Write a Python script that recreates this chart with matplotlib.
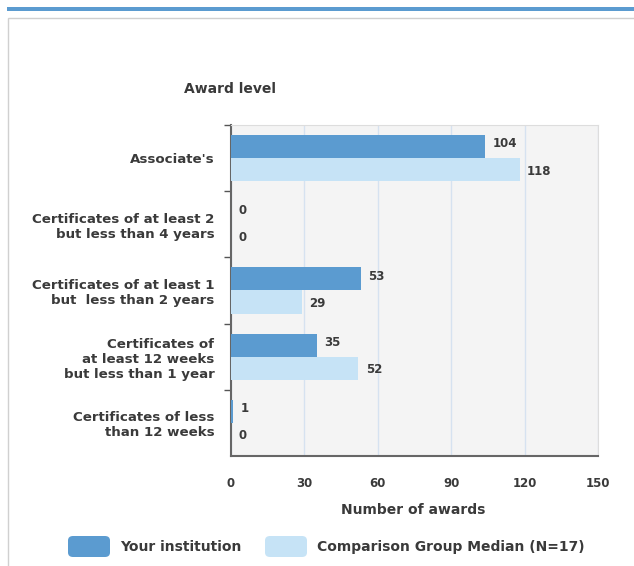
import matplotlib.pyplot as plt
from matplotlib.patches import FancyBboxPatch, Rectangle
import numpy as np

# Данные
categories = [
    "Associate's",
    "Certificates of at least 2\nbut less than 4 years",
    "Certificates of at least 1\nbut  less than 2 years",
    "Certificates of\nat least 12 weeks\nbut less than 1 year",
    "Certificates of less\nthan 12 weeks",
]
institution = [104, 0, 53, 35, 1]
comparison = [118, 0, 29, 52, 0]
x_ticks = [0, 30, 60, 90, 120, 150]

dark = "#5b9bd0"
light = "#c6e3f6"
txt = "#3a3a3a"

plt.rcParams["font.family"] = ["DejaVu Sans"]

fig = plt.figure(figsize=(6.34, 5.66), dpi=100)

# Рамка сверху
fig.patches.append(Rectangle((7 / 634, 1 - 11 / 566), 627 / 634, 4 / 566,
                             transform=fig.transFigure, color="#5b9bd0", lw=0))
fig.patches.append(Rectangle((8 / 634, -0.1), 700 / 634, 1 - 18 / 566 + 0.1,
                             transform=fig.transFigure, facecolor="none",
                             edgecolor="#d0d0d0", lw=1))

ax = fig.add_axes([231 / 634, 1 - 456 / 566, 367 / 634, 331 / 566])
ax.set_facecolor("#f4f4f4")

y = np.arange(len(categories))
h = 0.35
ax.barh(y - h / 2, institution, height=h, color=dark, zorder=3)
ax.barh(y + h / 2, comparison, height=h, color=light, zorder=3)

for i in range(len(categories)):
    ax.text(institution[i] + 3, y[i] - h / 2 - 0.04, str(institution[i]),
            va="center", ha="left", fontsize=8.5, fontweight="bold", color=txt)
    ax.text(comparison[i] + 3, y[i] + h / 2 + 0.02, str(comparison[i]),
            va="center", ha="left", fontsize=8.5, fontweight="bold", color=txt)

ax.set_xlim(0, 150)
ax.set_ylim(len(categories) - 0.5, -0.5)
ax.set_xticks(x_ticks)
ax.set_xticklabels([str(v) for v in x_ticks], fontsize=8.5, fontweight="bold", color=txt)
ax.tick_params(axis="x", length=0, pad=15)

# Деления на границах категорий, подписи по центру
ax.set_yticks(np.arange(len(categories)) - 0.5)
ax.set_yticklabels([])
ax.tick_params(axis="y", length=5, color="#555555", width=1)
ax.set_yticks(y, minor=True)
ax.set_yticklabels(categories, minor=True, fontsize=9.6, fontweight="bold",
                   color=txt, linespacing=1.2)
ax.tick_params(axis="y", which="minor", length=0, pad=12)

ax.grid(axis="x", color="#d6e2f0", lw=1, zorder=0)
for s in ["top", "right"]:
    ax.spines[s].set_color("#dddddd")
for s in ["left", "bottom"]:
    ax.spines[s].set_color("#666666")
    ax.spines[s].set_linewidth(1.5)

fig.text(230 / 634, 1 - 89 / 566, "Award level", ha="center", va="center",
         fontsize=10, fontweight="bold", color=txt)
fig.text(413 / 634, 1 - 510 / 566, "Number of awards", ha="center", va="center",
         fontsize=10, fontweight="bold", color=txt)

# Легенда
for x0, col, label in [(68, dark, "Your institution"),
                       (265, light, "Comparison Group Median (N=17)")]:
    fig.patches.append(FancyBboxPatch((x0 / 634, 1 - 557 / 566), 42 / 634, 21 / 566,
                                      boxstyle="round,pad=0,rounding_size=0.008",
                                      transform=fig.transFigure, color=col, lw=0))
    fig.text((x0 + 52) / 634, 1 - 547 / 566, label, ha="left", va="center",
             fontsize=10, fontweight="bold", color=txt)

plt.savefig("out.png", dpi=100)
